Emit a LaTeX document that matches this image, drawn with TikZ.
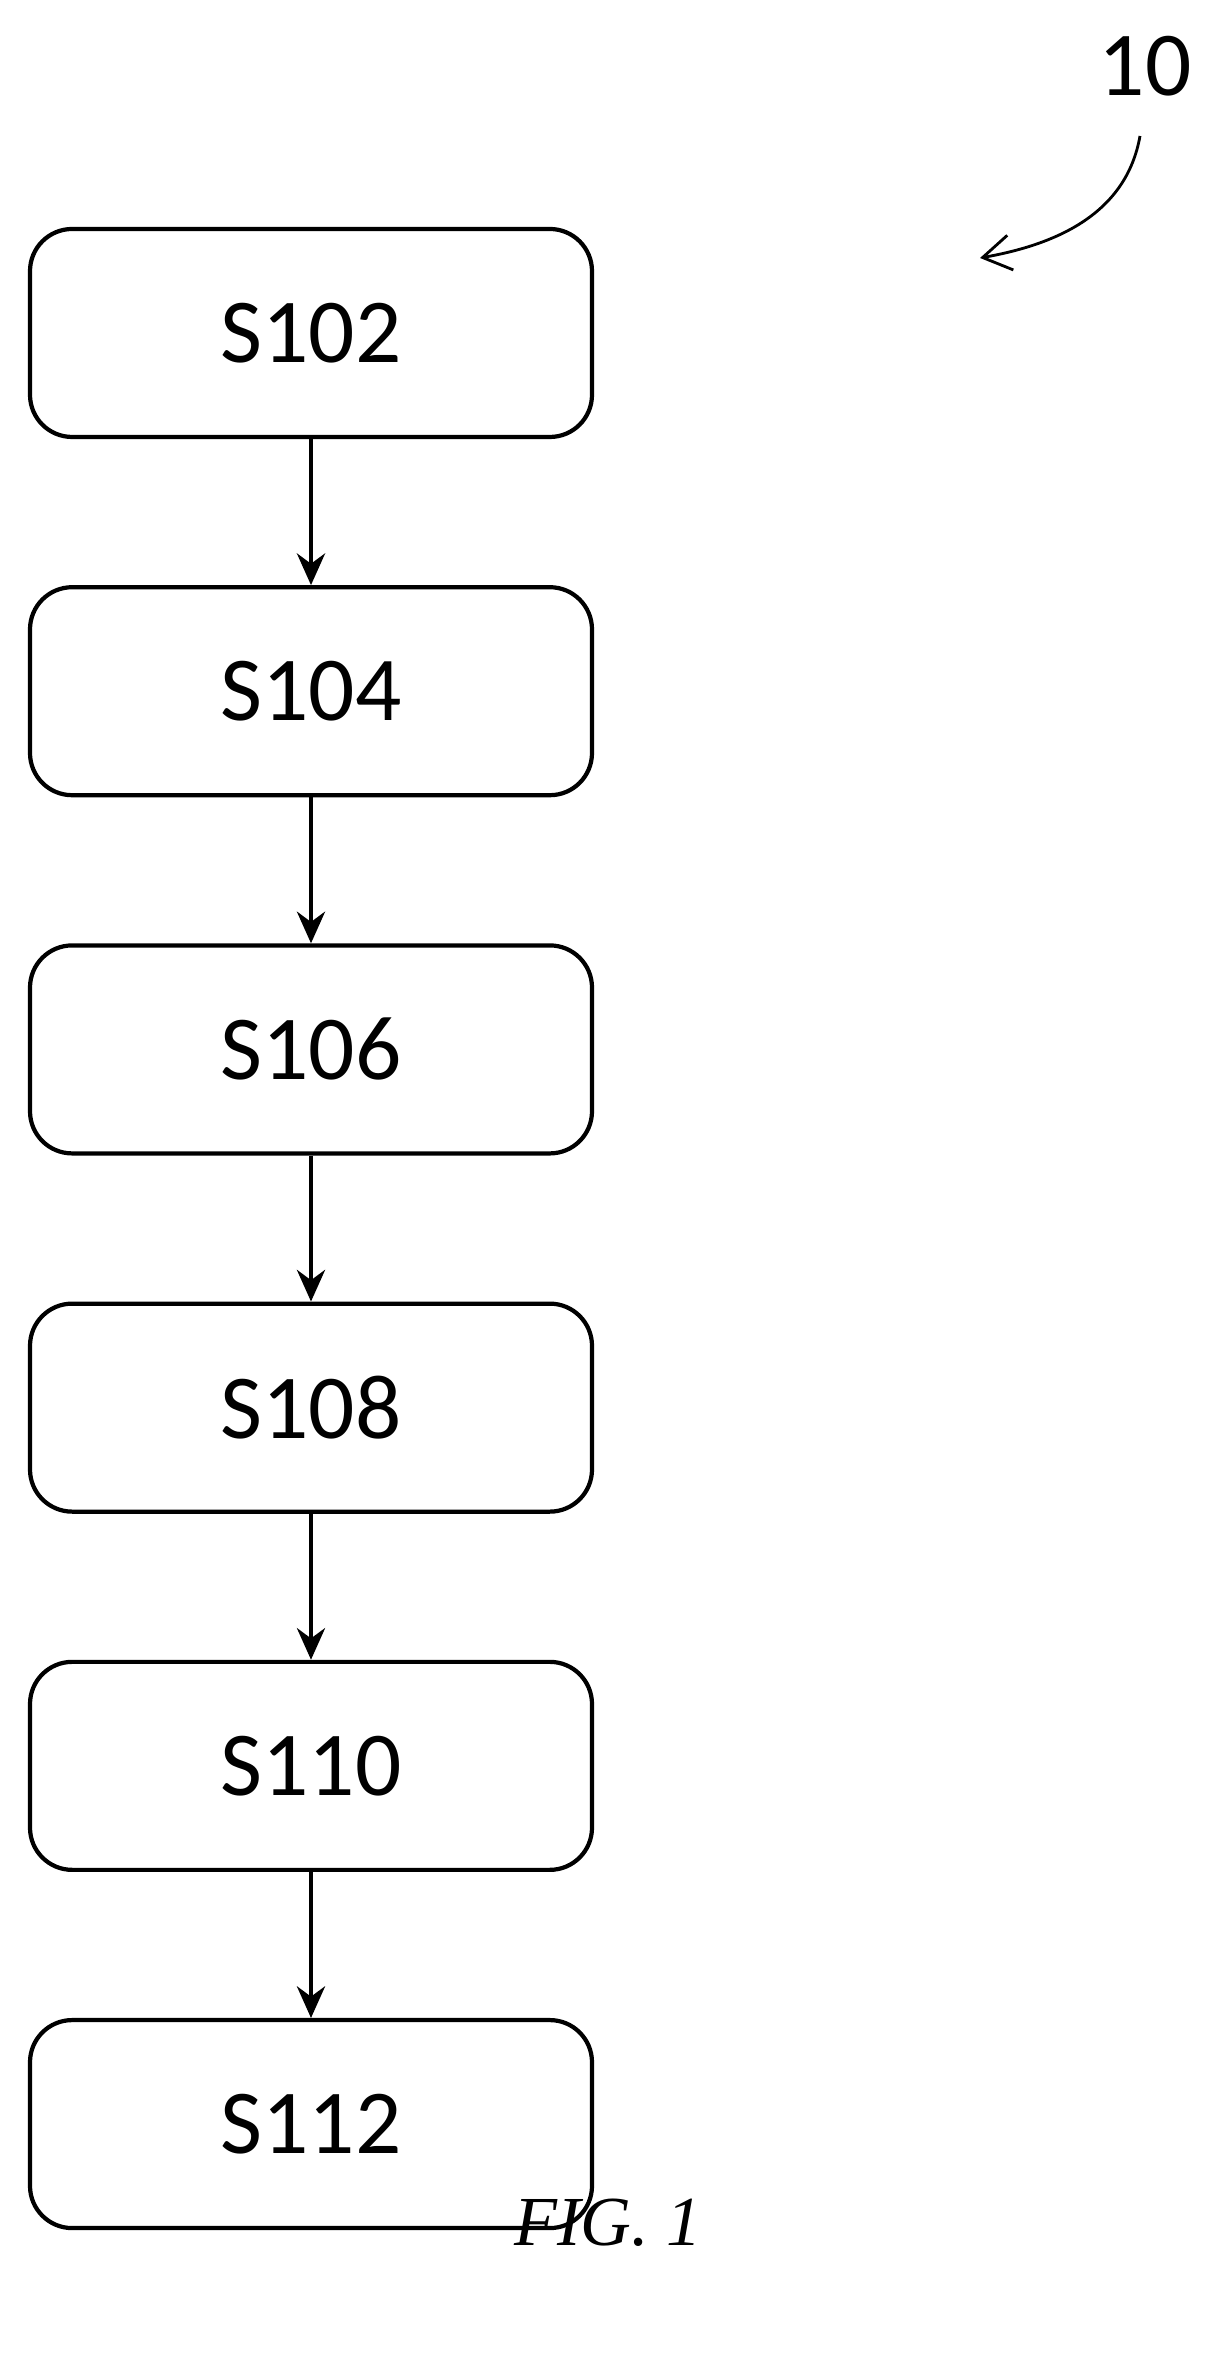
\documentclass[tikz,border=0pt]{standalone}
\usepackage{fontspec}
\setmainfont{Carlito}
\newfontfamily\capfont{Liberation Serif}
\usetikzlibrary{positioning,arrows.meta}
\tikzset{stepbox/.style={draw, very thick, rounded corners=12pt, minimum width=5.62cm, minimum height=2.08cm, font=\fontsize{26}{30}\selectfont}}
\begin{document}
\begin{tikzpicture}
\useasboundingbox (0,0) rectangle (12.14,23.61);

\node[stepbox] (s102) at (3.11,20.28) {S102};
\node[stepbox, below=1.46cm of s102] (s104) {S104};
\node[stepbox, below=1.46cm of s104] (s106) {S106};
\node[stepbox, below=1.46cm of s106] (s108) {S108};
\node[stepbox, below=1.46cm of s108] (s110) {S110};
\node[stepbox, below=1.46cm of s110] (s112) {S112};

\draw [very thick, -{Stealth[length=9pt,width=8pt]}] (s102)--(s104);
\draw [very thick, -{Stealth[length=9pt,width=8pt]}] (s104)--(s106);
\draw [very thick, -{Stealth[length=9pt,width=8pt]}] (s106)--(s108);
\draw [very thick, -{Stealth[length=9pt,width=8pt]}] (s108)--(s110);
\draw [very thick, -{Stealth[length=9pt,width=8pt]}] (s110)--(s112);

\node (ref) at (11.45,22.95) {\fontsize{26}{30}\selectfont 10};
\node[coordinate] (v1) at (11.4,22.25) {};
\node[coordinate] (v2) at (9.8,21.03) {};
\draw [thick, -{Straight Barb[length=8pt,width=10pt]}] (v1) to[out=260, in=10] (v2);

\node (fig) at (6.08,1.38) {\capfont\itshape\fontsize{20}{24}\selectfont FIG. 1};

\end{tikzpicture}
\end{document}
